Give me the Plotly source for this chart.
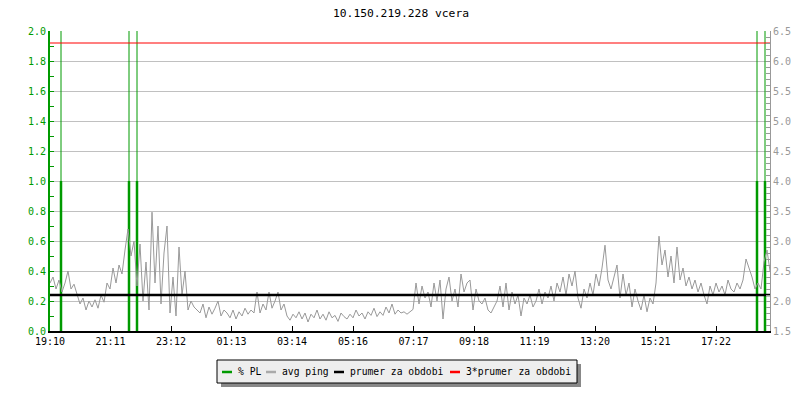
import plotly.graph_objects as go

# time axis: minutes since 19:10 (24 h window)
tick_minutes = [0, 121, 242, 363, 484, 606, 727, 848, 969, 1090, 1211, 1332]
tick_labels = ["19:10", "21:11", "23:12", "01:13", "03:14", "05:16",
               "07:17", "09:18", "11:19", "13:20", "15:21", "17:22"]

# avg ping [ms], one sample every 6 minutes
ping_step = 6
avg_ping = [
    2.30, 2.40, 2.20, 2.35, 2.15, 2.30, 2.50, 2.20, 2.28, 2.10,
    1.95, 2.05, 1.85, 2.00, 1.90, 2.02, 1.88, 2.10, 1.98, 2.30,
    2.20, 2.55, 2.30, 2.60, 2.45, 2.85, 3.20, 2.75, 3.00, 2.25,
    2.95, 2.00, 2.65, 1.85, 3.48, 2.30, 3.25, 1.95, 2.80, 3.25,
    1.80, 2.40, 1.75, 2.90, 2.10, 2.50, 1.85, 2.00, 1.90, 1.85,
    1.80, 1.95, 1.72, 1.90, 1.78, 1.88, 2.00, 1.75, 1.85, 1.80,
    1.72, 1.85, 1.70, 1.82, 1.75, 1.88, 1.78, 1.85, 1.80, 2.15,
    1.80, 1.95, 1.85, 2.15, 1.88, 2.00, 2.15, 1.85, 1.95, 1.75,
    1.68, 1.78, 1.72, 1.82, 1.70, 1.80, 1.65, 1.78, 1.72, 1.85,
    1.70, 1.78, 1.68, 1.82, 1.72, 1.76, 1.66, 1.80, 1.74, 1.70,
    1.78, 1.72, 1.85, 1.75, 1.80, 1.70, 1.82, 1.76, 1.88, 1.74,
    1.82, 1.76, 1.90, 1.80, 1.95, 1.78, 1.85, 1.80, 1.82, 1.78,
    1.82, 1.86, 2.30, 1.95, 2.25, 2.05, 2.15, 1.90, 2.30, 2.00,
    2.35, 1.70, 2.20, 2.40, 2.00, 2.20, 1.90, 2.45, 2.15, 2.30,
    2.35, 1.85, 2.20, 2.00, 1.95, 2.05, 1.85, 1.80, 1.90, 2.00,
    2.25, 1.90, 2.30, 1.85, 2.15, 1.95, 2.10, 1.75, 2.05, 1.95,
    2.10, 1.90, 2.00, 2.20, 1.95, 2.15, 2.05, 2.25, 2.00, 2.30,
    2.15, 2.40, 2.10, 2.45, 2.25, 2.50, 2.05, 1.88, 2.20, 2.05,
    2.30, 2.10, 2.45, 2.25, 2.55, 2.93, 2.35, 2.20, 2.40, 2.60,
    2.05, 2.45, 2.10, 2.30, 1.90, 2.20, 2.00, 1.85, 2.10, 1.82,
    2.05, 1.95, 2.30, 3.08, 2.60, 2.85, 2.40, 2.75, 2.30, 2.90,
    2.35, 2.55, 2.25, 2.40, 2.20, 2.35, 2.15, 2.30, 2.10, 1.95,
    2.25, 2.10, 2.30, 2.15, 2.25, 2.10, 2.35, 2.20, 2.15, 2.30,
    2.20, 2.35, 2.70, 2.55, 2.40, 2.20, 2.30, 2.20, 2.65, 2.85,
    2.50,
]
ping_minutes = [i * ping_step for i in range(len(avg_ping))]

# packet loss events
pl_minutes = [22, 158, 174, 1414, 1430]
pl_values = [1.0, 1.0, 1.0, 1.0, 1.0]
pl_over = [3.0, 3.0, 3.0, 3.0, 3.0]  # off-scale spikes

avg_period = 2.1
window = [0, 1440]

GREEN = "#009a00"
GRAY = "#999999"
FONT = "DejaVu Sans Mono"

# the page body adds an 8px margin, so the figure is 8px smaller
OFF = 8
W, H = 800 - OFF, 400 - OFF
# plot area in screen pixels
L, R, T, B = 50, 770, 31, 331


def px(x):
    return (x - L) / (R - L)


def py(y):
    return (B - y) / (B - T)


def segments(xs, ys):
    sx, sy = [], []
    for x, y in zip(xs, ys):
        sx += [x, x, None]
        sy += [0, y, None]
    return sx, sy


fig = go.Figure()

ox, oy = segments(pl_minutes, pl_over)
fig.add_trace(go.Scatter(x=ox, y=oy, mode="lines", line=dict(color=GREEN, width=1),
                         hoverinfo="skip", yaxis="y"))
sx, sy = segments(pl_minutes, pl_values)
fig.add_trace(go.Scatter(x=sx, y=sy, mode="lines", line=dict(color=GREEN, width=2.5),
                         name="% PL", yaxis="y"))
fig.add_trace(go.Scatter(x=ping_minutes, y=avg_ping, mode="lines",
                         line=dict(color=GRAY, width=1), name="avg ping", yaxis="y2"))
fig.add_trace(go.Scatter(x=window, y=[avg_period] * 2, mode="lines",
                         line=dict(color="black", width=2.5), name="prumer za obdobi", yaxis="y2"))
fig.add_trace(go.Scatter(x=window, y=[3 * avg_period] * 2, mode="lines",
                         line=dict(color="red", width=1.2), name="3*prumer za obdobi", yaxis="y2"))

# legend box drawn by hand (rrdtool style, small swatches + drop shadow)
fig.add_shape(type="rect", xref="paper", yref="paper",
              x0=px(221), x1=px(581), y0=py(387), y1=py(364),
              fillcolor="#888888", line=dict(width=0))
fig.add_shape(type="rect", xref="paper", yref="paper",
              x0=px(217), x1=px(577), y0=py(383), y1=py(360),
              fillcolor="#eeeeee", line=dict(color="black", width=1))
legend_items = [
    ("% PL", GREEN, 222, 236),
    ("avg ping", "#aaaaaa", 266, 280),
    ("prumer za obdobi", "black", 334, 348),
    ("3*prumer za obdobi", "red", 450, 464),
]
for text, color, sw, tx in legend_items:
    fig.add_shape(type="line", xref="paper", yref="paper",
                  x0=px(sw), x1=px(sw + 10), y0=py(372), y1=py(372),
                  line=dict(color=color, width=2.5))
    fig.add_annotation(text=text, xref="paper", yref="paper", x=px(tx), y=py(371),
                       xanchor="left", yanchor="middle", showarrow=False,
                       font=dict(family=FONT, size=9.7, color="black"))

fig.update_layout(
    width=W, height=H,
    margin=dict(l=L - OFF, r=800 - R, t=T - OFF, b=400 - B, autoexpand=False),
    plot_bgcolor="white", paper_bgcolor="white",
    font=dict(family=FONT, size=10, color="black"),
    showlegend=False,
    title=dict(text="10.150.219.228 vcera", x=(401 - OFF) / W, xref="container",
               xanchor="center", y=1 - (13 - OFF) / H, yanchor="middle",
               font=dict(family=FONT, size=11.3, color="black")),
    xaxis=dict(range=window, tickvals=tick_minutes, ticktext=tick_labels,
               ticks="inside", ticklen=5, tickcolor="black", showgrid=False, zeroline=False,
               showline=True, linecolor="black", linewidth=2,
               tickfont=dict(family=FONT, size=10, color="black")),
    yaxis=dict(range=[0, 2], dtick=0.2, tickformat=".1f", ticks="inside", ticklen=4,
               tickcolor=GREEN, showline=True, linecolor=GREEN, linewidth=2,
               gridcolor="#c0c0c0", gridwidth=1, zeroline=False,
               minor=dict(dtick=0.1, ticks="inside", ticklen=4, tickcolor=GREEN, showgrid=False),
               tickfont=dict(family=FONT, size=10, color=GREEN)),
    yaxis2=dict(range=[1.5, 6.5], dtick=0.5, tickformat=".1f", overlaying="y", side="right",
                ticks="inside", ticklen=4, tickcolor=GRAY, showline=True, linecolor=GRAY,
                linewidth=1, showgrid=False, zeroline=False,
                minor=dict(dtick=0.1, ticks="inside", ticklen=4, tickcolor=GRAY, showgrid=False),
                tickfont=dict(family=FONT, size=10, color=GRAY)),
)

fig.write_html("out.html")
